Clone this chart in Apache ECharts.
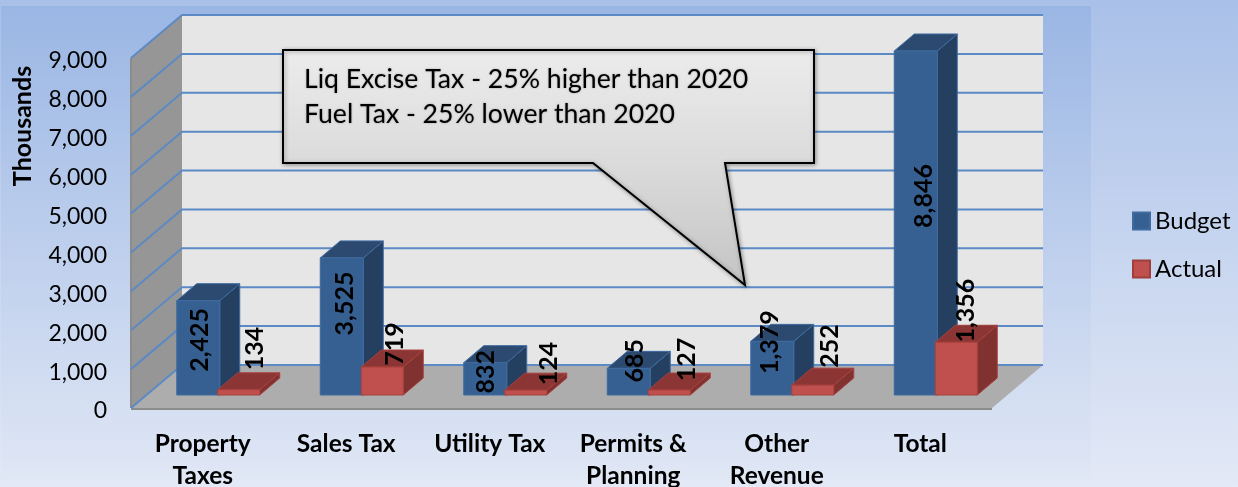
<!DOCTYPE html>
<html lang="en">
<head>
    <meta charset="UTF-8">
    <title>Revenue budget vs actual</title>
    <script src="https://cdn.jsdelivr.net/npm/echarts@6/dist/echarts.min.js"></script>
    <style>
        html,body{margin:0;padding:0;}
        #main{width:1238px;height:487px;}
    </style>
</head>
<body>
<div id="main"></div>
<script type="text/javascript">
    var categories = ['Property\nTaxes', 'Sales Tax', 'Utility Tax', 'Permits &\nPlanning', 'Other\nRevenue', 'Total'];
    var budget = [2425, 3525, 832, 685, 1379, 8846];
    var actual = [134, 719, 124, 127, 252, 1356];
    var yTicks = [0, 1000, 2000, 3000, 4000, 5000, 6000, 7000, 8000, 9000];
    var noteLines = ['Liq Excise Tax - 25% higher than 2020', 'Fuel Tax - 25% lower than 2020'];

    // label nudges relative to the bar, [dx, dy]
    var budgetNudge = [[2, -8], [3, -23], [1, -7], [6, -21], [-2, -26], [8, -27]];
    var actualNudge = [[16, -44], [13, -37], [23, -29], [18, -33], [17, -44], [10, -58]];

    var FONT = 'Lato';
    var WALL_DX = 51, WALL_DY = -43;   // 3d depth of the whole box
    var BAR_IN_X = 16, BAR_IN_Y = -13; // where the bars stand on the floor
    var BAR_DX = 20, BAR_DY = -17;     // depth of a bar
    var GRID_BLUE = '#5b8ac4';

    function wallItem(params, api) {
        var r = params.coordSys;
        var x0 = r.x, x1 = r.x + r.width;
        var yBase = api.coord([0, 0])[1], yTop = api.coord([0, 9000])[1];
        var kids = [
            {type: 'polygon', shape: {points: [[x0 + WALL_DX, yTop + WALL_DY], [x1 + WALL_DX, yTop + WALL_DY], [x1 + WALL_DX, yBase + WALL_DY], [x0 + WALL_DX, yBase + WALL_DY]]}, style: {fill: '#e6e6e6'}},
            {type: 'polygon', shape: {points: [[x0, yTop], [x0 + WALL_DX, yTop + WALL_DY], [x0 + WALL_DX, yBase + WALL_DY], [x0, yBase]]}, style: {fill: '#969696'}},
            {type: 'polygon', shape: {points: [[x0, yBase], [x1, yBase], [x1 + WALL_DX, yBase + WALL_DY], [x0 + WALL_DX, yBase + WALL_DY]]}, style: {fill: '#adadad'}},
            {type: 'line', shape: {x1: x0, y1: yBase + 1, x2: x1, y2: yBase + 1}, style: {stroke: '#8c8c8c', lineWidth: 2}},
            {type: 'line', shape: {x1: x0, y1: yTop, x2: x0, y2: yBase}, style: {stroke: '#8c8c8c', lineWidth: 2}}
        ];
        yTicks.forEach(function (v) {
            var y = api.coord([0, v])[1];
            kids.push({type: 'polyline', shape: {points: [[x0, y], [x0 + WALL_DX, y + WALL_DY], [x1 + WALL_DX, y + WALL_DY]]}, style: {fill: 'none', stroke: GRID_BLUE, lineWidth: 2}});
        });
        return {type: 'group', children: kids};
    }

    function barFaces(x0, x1, yTop, yBase, front, top, side, edge) {
        return [
            {type: 'polygon', shape: {points: [[x1, yTop], [x1 + BAR_DX, yTop + BAR_DY], [x1 + BAR_DX, yBase + BAR_DY], [x1, yBase]]}, style: {fill: side, stroke: edge, lineWidth: 1}},
            {type: 'polygon', shape: {points: [[x0, yTop], [x1, yTop], [x1 + BAR_DX, yTop + BAR_DY], [x0 + BAR_DX, yTop + BAR_DY]]}, style: {fill: top, stroke: edge, lineWidth: 1}},
            {type: 'rect', shape: {x: x0, y: yTop, width: x1 - x0, height: yBase - yTop}, style: {fill: front, stroke: edge, lineWidth: 1}}
        ];
    }

    function barItem(left, right, front, top, side, edge) {
        return function (params, api) {
            var i = api.value(0), v = api.value(1);
            var c = api.coord([i, v]), z = api.coord([i, 0]);
            var cx = c[0] + BAR_IN_X;
            var yTop = c[1] + BAR_IN_Y, yBase = z[1] + BAR_IN_Y;
            return {type: 'group', children: barFaces(cx + left, cx + right, yTop, yBase, front, top, side, edge)};
        };
    }

    function labelItem(left, right, nudge) {
        return function (params, api) {
            var i = api.value(0), v = api.value(1);
            var c = api.coord([i, v]), z = api.coord([i, 0]);
            var cx = c[0] + BAR_IN_X + (left + right) / 2;
            var yTop = c[1] + BAR_IN_Y, yBase = z[1] + BAR_IN_Y;
            var n = nudge[params.dataIndex];
            return {
                type: 'text',
                x: cx + n[0], y: (yTop + yBase) / 2 + n[1],
                rotation: Math.PI / 2,
                style: {text: v.toLocaleString('en-US'), fill: '#000', font: 'bold 25px ' + FONT, align: 'center', verticalAlign: 'middle'}
            };
        };
    }

    function pairs(values) {
        return values.map(function (v, i) { return [i, v]; });
    }

    var myChart = echarts.init(document.getElementById('main'), null, {renderer: 'canvas'});
    myChart.setOption({
        animation: false,
        backgroundColor: {type: 'linear', x: 0, y: 0, x2: 0, y2: 1, colorStops: [{offset: 0, color: '#a9c0e8'}, {offset: 1, color: '#e3e9f6'}]},
        textStyle: {fontFamily: FONT},
        grid: {left: 131, top: 58, width: 861, height: 350, outerBoundsMode: 'none'},
        legend: {
            orient: 'vertical', left: 1127, top: 204, itemWidth: 17, itemHeight: 17, itemGap: 24,
            data: ['Budget', 'Actual'],
            textStyle: {fontSize: 24, color: '#000', fontFamily: FONT},
            icon: 'rect'
        },
        xAxis: {
            type: 'category', data: categories,
            axisLine: {show: false}, axisTick: {show: false},
            axisLabel: {color: '#000', fontSize: 24.5, fontWeight: 'bold', fontFamily: FONT, margin: 20, lineHeight: 32, interval: 0}
        },
        yAxis: {
            type: 'value', min: 0, max: 9000, interval: 1000,
            axisLine: {show: false}, axisTick: {show: false}, splitLine: {show: false},
            axisLabel: {color: '#000', fontSize: 23, margin: 24, verticalAlign: 'top', lineHeight: 6, fontFamily: FONT, formatter: function (v) { return v.toLocaleString('en-US'); }}
        },
        series: [
            {type: 'custom', name: 'walls', z: 1, data: [[0, 0]], renderItem: wallItem, silent: true},
            {type: 'custom', name: 'Budget', z: 2, data: pairs(budget), encode: {x: 0, y: 1}, itemStyle: {color: '#366092', borderColor: '#3f6ba0', borderWidth: 1},
                renderItem: barItem(-42, 1, '#366092', '#2c4a70', '#243f60', '#3f6ba0')},
            {type: 'custom', name: 'Actual', z: 3, data: pairs(actual), encode: {x: 0, y: 1}, itemStyle: {color: '#c0504d', borderColor: '#9e3f3c', borderWidth: 1},
                renderItem: barItem(-1, 41, '#c0504d', '#8b3634', '#7f3230', '#a8403d')},
            {type: 'custom', name: 'budgetLabels', z: 4, data: pairs(budget), encode: {x: 0, y: 1}, renderItem: labelItem(-42, 1, budgetNudge), silent: true},
            {type: 'custom', name: 'actualLabels', z: 4, data: pairs(actual), encode: {x: 0, y: 1}, renderItem: labelItem(-1, 41, actualNudge), silent: true}
        ],
        graphic: [
            {type: 'rect', z: -10, shape: {x: 1, y: 6, width: 1090, height: 474},
                style: {fill: {type: 'linear', x: 0, y: 0, x2: 0, y2: 1, colorStops: [{offset: 0, color: '#9ab6e4'}, {offset: 1, color: '#e0e7f5'}]}}},
            {type: 'text', z: 10, x: 23, y: 126, rotation: Math.PI / 2,
                style: {text: 'Thousands', font: 'bold 25px ' + FONT, fill: '#000', align: 'center', verticalAlign: 'middle'}},
            {type: 'polygon', z: 50,
                shape: {points: [[283, 50], [814, 50], [814, 163], [725, 163], [745, 285], [593, 163], [283, 163]]},
                style: {
                    fill: {type: 'linear', x: 0, y: 0, x2: 0, y2: 1, colorStops: [{offset: 0, color: '#ececec'}, {offset: 0.5, color: '#dadada'}, {offset: 1, color: '#c4c4c4'}]},
                    stroke: '#000', lineWidth: 2, shadowBlur: 4, shadowColor: 'rgba(0,0,0,0.35)', shadowOffsetX: 1, shadowOffsetY: 1
                }},
            {type: 'text', z: 51, x: 304, y: 79, style: {text: noteLines[0], font: '26.6px ' + FONT, fill: '#000', verticalAlign: 'middle', textShadowBlur: 2, textShadowColor: 'rgba(0,0,0,0.35)'}},
            {type: 'text', z: 51, x: 304, y: 114, style: {text: noteLines[1], font: '26.6px ' + FONT, fill: '#000', verticalAlign: 'middle', textShadowBlur: 2, textShadowColor: 'rgba(0,0,0,0.35)'}}
        ]
    });
</script>
</body>
</html>
